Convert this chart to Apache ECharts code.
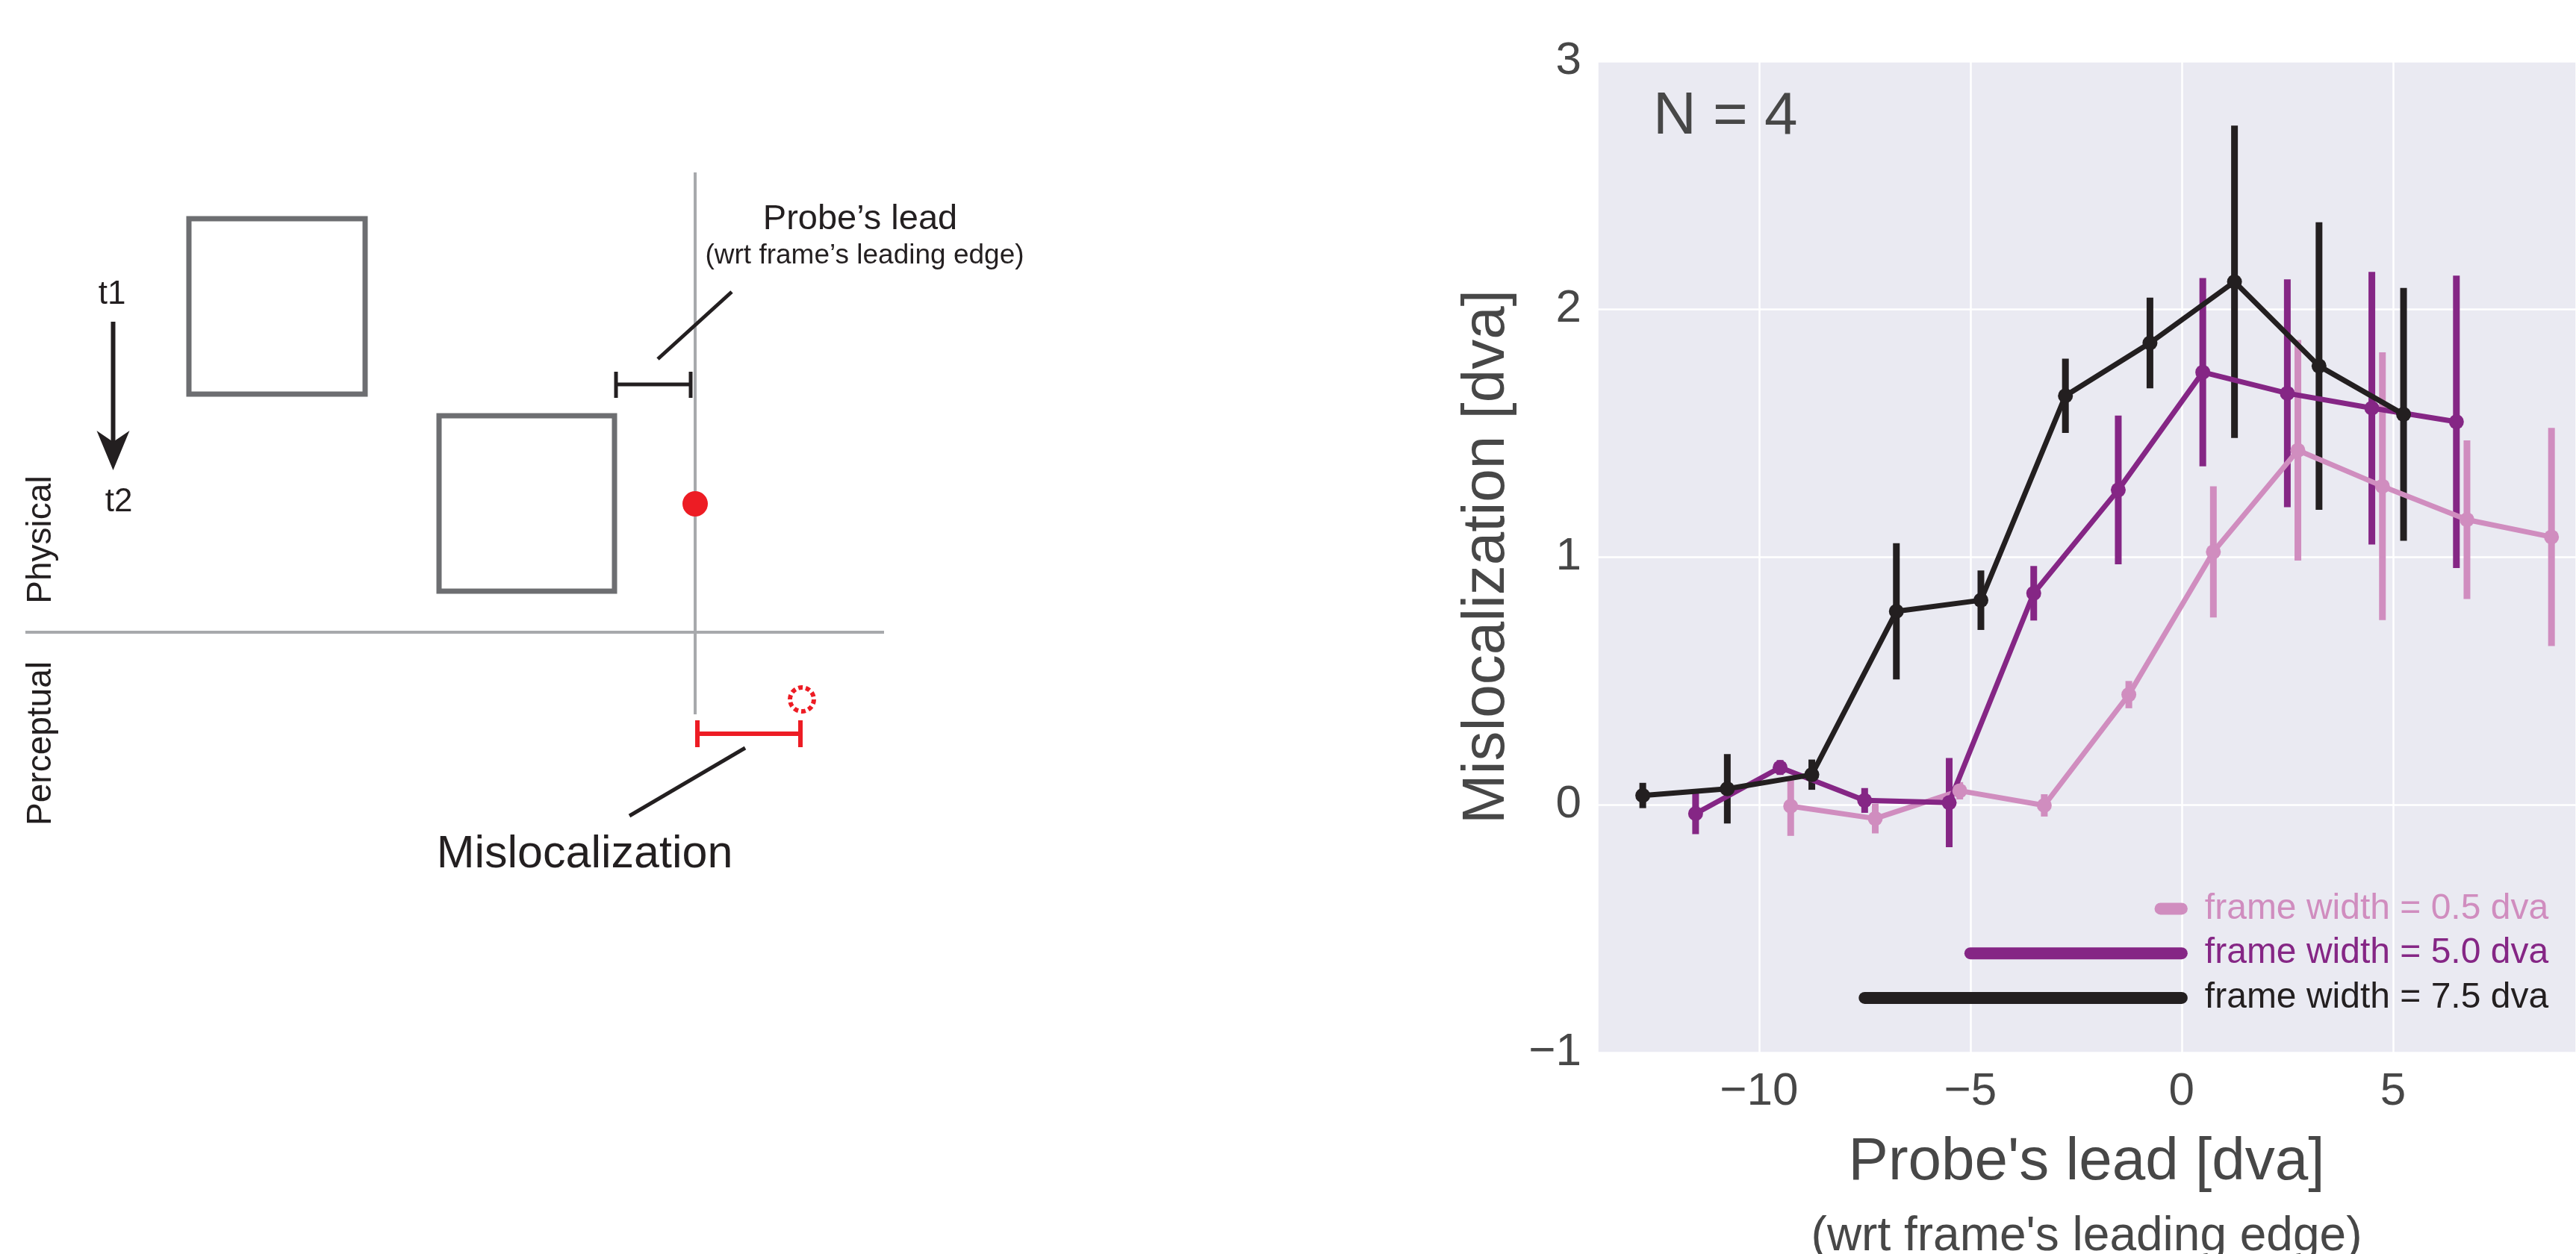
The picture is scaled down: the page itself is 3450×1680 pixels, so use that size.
<!DOCTYPE html>
<html>
<head>
<meta charset="utf-8">
<script src="https://cdn.jsdelivr.net/npm/echarts@6/dist/echarts.min.js"></script>
<style>
  html, body { margin: 0; padding: 0; background: #fff; }
  #chart { width: 3450px; height: 1680px; }
</style>
</head>
<body>
<div id="chart"></div>
<script>
// frame width = 0.5 dva
var x05 = [-9.25, -7.25, -5.25, -3.25, -1.25, 0.75, 2.75, 4.75, 6.75, 8.75]
var y05 = [-0.006, -0.056, 0.056, -0.003, 0.444, 1.02, 1.43, 1.285, 1.15, 1.08]
var e05 = [0.12, 0.06, 0.035, 0.045, 0.055, 0.265, 0.445, 0.54, 0.32, 0.44]
// frame width = 5.0 dva
var x50 = [-11.5, -9.5, -7.5, -5.5, -3.5, -1.5, 0.5, 2.5, 4.5, 6.5]
var y50 = [-0.036, 0.15, 0.017, 0.008, 0.853, 1.27, 1.745, 1.66, 1.60, 1.545]
var e50 = [0.083, 0.03, 0.05, 0.18, 0.11, 0.3, 0.38, 0.46, 0.55, 0.59]
// frame width = 7.5 dva
var x75 = [-12.75, -10.75, -8.75, -6.75, -4.75, -2.75, -0.75, 1.25, 3.25, 5.25]
var y75 = [0.037, 0.064, 0.121, 0.78, 0.825, 1.65, 1.863, 2.11, 1.77, 1.575]
var e75 = [0.051, 0.14, 0.061, 0.275, 0.12, 0.15, 0.183, 0.63, 0.58, 0.51]

// legend: bar length = frame width (in dva), drawn from -width to 0
var legendNames = ['frame width = 0.5 dva', 'frame width = 5.0 dva', 'frame width = 7.5 dva']
var legendWidths = [0.5, 5.0, 7.5]
var legendY = [-0.42, -0.6, -0.78]

var colors = ['#D08DBF', '#852685', '#231F20']
var textColor = '#474747'
var font = 'Liberation Sans, Arial, Helvetica, sans-serif'
var inkColor = '#231F20'
var redColor = '#ED1C24'
var frameGrey = '#6D6E71'
var lightGrey = '#A7A9AC'

function minus(v) {
    return v < 0 ? '\u2212' + Math.abs(v) : '' + v
}

function zip(xs, ys) {
    return xs.map(function (x, i) { return [x, ys[i]] })
}

// error bars as vertical segments through the axes
function errSeries(xs, ys, es, color) {
    return {
        type: 'custom',
        silent: true,
        data: xs.map(function (x, i) { return [x, ys[i] - es[i], ys[i] + es[i]] }),
        renderItem: function (params, api) {
            var p1 = api.coord([api.value(0), api.value(1)])
            var p2 = api.coord([api.value(0), api.value(2)])
            return {
                type: 'line',
                shape: { x1: p1[0], y1: p1[1], x2: p2[0], y2: p2[1] },
                style: { stroke: color, lineWidth: 9, lineCap: 'butt' }
            }
        }
    }
}

function lineSeries(name, xs, ys, color) {
    return {
        name: name,
        type: 'line',
        data: zip(xs, ys),
        symbol: 'circle',
        symbolSize: 20,
        showSymbol: true,
        itemStyle: { color: color },
        lineStyle: { color: color, width: 7 }
    }
}

function legendSeries(i) {
    var w = legendWidths[i], y = legendY[i]
    return {
        name: legendNames[i],
        type: 'line',
        data: [[-w, y], [0, y]],
        symbol: 'none',
        lineStyle: { color: colors[i], width: 16, cap: 'round' },
        endLabel: {
            show: true,
            formatter: '{a}',
            distance: 31,
            color: colors[i],
            fontSize: 48,
            fontFamily: font
        }
    }
}

var series = [
    errSeries(x05, y05, e05, colors[0]),
    lineSeries(legendNames[0], x05, y05, colors[0]),
    errSeries(x50, y50, e50, colors[1]),
    lineSeries(legendNames[1], x50, y50, colors[1]),
    errSeries(x75, y75, e75, colors[2]),
    lineSeries(legendNames[2], x75, y75, colors[2]),
    legendSeries(0),
    legendSeries(1),
    legendSeries(2)
]

// schematic on the left
function seg(x1, y1, x2, y2, color, w) {
    return { type: 'line', shape: { x1: x1, y1: y1, x2: x2, y2: y2 }, style: { stroke: color, lineWidth: w } }
}
function txt(x, y, text, size, rot) {
    return {
        type: 'text', x: x, y: y, rotation: rot || 0,
        style: { text: text, fill: inkColor, font: size + 'px ' + font, align: 'center', verticalAlign: 'middle' }
    }
}

var diagram = [
    { type: 'rect', shape: { x: 253, y: 293, width: 236, height: 235 }, style: { fill: 'none', stroke: frameGrey, lineWidth: 7 } },
    { type: 'rect', shape: { x: 588, y: 557, width: 235, height: 235 }, style: { fill: 'none', stroke: frameGrey, lineWidth: 7 } },
    seg(931, 231, 931, 957, lightGrey, 4),
    seg(34, 847, 1184, 847, lightGrey, 4),
    // probe's lead bracket
    seg(825, 515, 925, 515, inkColor, 5),
    seg(825, 498, 825, 533, inkColor, 5),
    seg(925, 498, 925, 533, inkColor, 5),
    seg(881, 481, 980, 391, inkColor, 5),
    // probe
    { type: 'circle', shape: { cx: 931, cy: 675, r: 17 }, style: { fill: redColor } },
    { type: 'circle', shape: { cx: 1074, cy: 937, r: 16 }, style: { fill: 'none', stroke: redColor, lineWidth: 6, lineDash: [6, 4] } },
    // mislocalization bracket
    seg(934, 983, 1072, 983, redColor, 6),
    seg(934, 965, 934, 1001, redColor, 6),
    seg(1072, 965, 1072, 1001, redColor, 6),
    seg(998, 1002, 843, 1093, inkColor, 5),
    // time arrow
    seg(151.5, 431, 151.5, 595, inkColor, 6),
    { type: 'polygon', shape: { points: [[151.5, 630], [129.5, 577], [151.5, 592], [173.5, 577]] }, style: { fill: inkColor } },
    txt(150, 395, 't1', 44),
    txt(159, 673, 't2', 44),
    txt(55, 723, 'Physical', 46, Math.PI / 2),
    txt(55, 996, 'Perceptual', 46, Math.PI / 2),
    txt(1152, 294, 'Probe\u2019s lead', 47),
    txt(1158, 343, '(wrt frame\u2019s leading edge)', 37),
    txt(783, 1145, 'Mislocalization', 61)
]

var chart = echarts.init(document.getElementById('chart'))
chart.setOption({
    animation: false,
    backgroundColor: '#fff',
    textStyle: { fontFamily: font },
    grid: {
        left: 2139, top: 82, right: 0, bottom: 270,
        show: true, backgroundColor: '#EAEAF2', borderWidth: 0,
        containLabel: false, outerBoundsMode: 'none'
    },
    xAxis: {
        type: 'value',
        min: -13.83,
        max: 9.33,
        splitNumber: 5,
        axisLine: { show: false },
        axisTick: { show: false },
        splitLine: { lineStyle: { color: '#fff', width: 2.5 } },
        axisLabel: {
            showMinLabel: false, showMaxLabel: false,
            margin: 22, fontSize: 62, color: textColor, fontFamily: font,
            formatter: minus
        },
        name: '{a|Probe\'s lead [dva]}\n{b|(wrt frame\'s leading edge)}',
        nameLocation: 'middle',
        nameGap: 100,
        nameTextStyle: {
            color: textColor,
            rich: {
                a: { fontSize: 80, lineHeight: 96, color: textColor, fontFamily: font },
                b: { fontSize: 64, lineHeight: 102, color: textColor, fontFamily: font }
            }
        }
    },
    yAxis: {
        type: 'value',
        min: -1,
        max: 3,
        interval: 1,
        axisLine: { show: false },
        axisTick: { show: false },
        splitLine: { lineStyle: { color: '#fff', width: 2.5 } },
        axisLabel: { margin: 21, fontSize: 62, color: textColor, fontFamily: font, formatter: minus },
        name: 'Mislocalization [dva]',
        nameLocation: 'middle',
        nameGap: 107,
        nameTextStyle: { fontSize: 80, color: textColor, fontFamily: font }
    },
    graphic: diagram.concat([
        {
            type: 'text', x: 2214, y: 157,
            style: { text: 'N = 4', fill: textColor, font: '80px ' + font, align: 'left', verticalAlign: 'middle' }
        }
    ]),
    series: series
})
</script>
</body>
</html>
